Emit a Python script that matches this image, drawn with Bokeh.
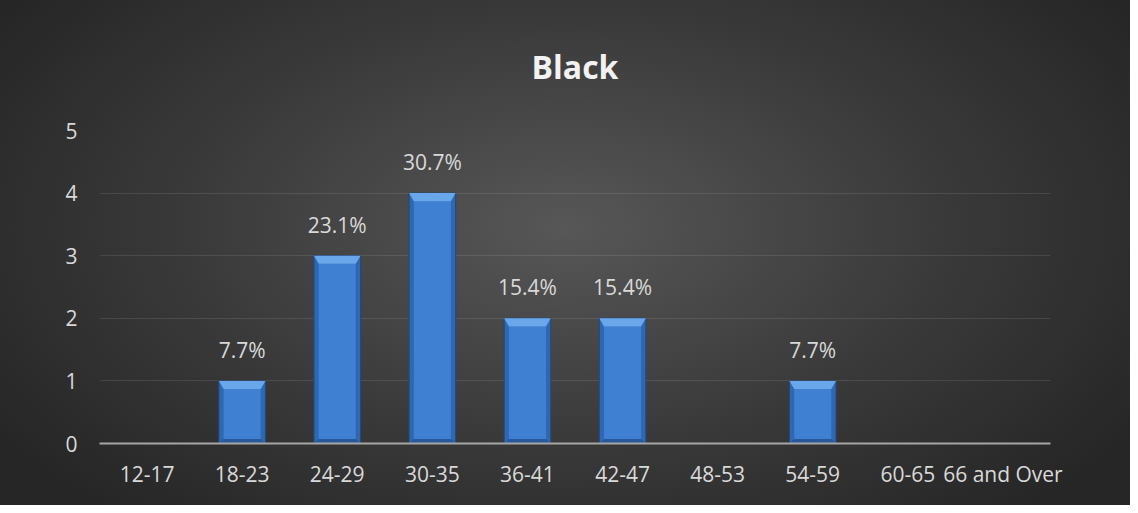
from bokeh.plotting import figure
from bokeh.models import Range1d, FixedTicker, ColumnDataSource
from bokeh.core.properties import value
from bokeh.embed import file_html
from bokeh.resources import INLINE

title = "Black"
categories = ["12-17", "18-23", "24-29", "30-35", "36-41", "42-47", "48-53", "54-59", "60-65", "66 and Over"]
counts = [0, 1, 3, 4, 2, 2, 0, 1, 0, 0]
percent_labels = ["", "7.7%", "23.1%", "30.7%", "15.4%", "15.4%", "", "7.7%", "", ""]
y_ticks = [0, 1, 2, 3, 4, 5]

FONT = "Open Sans"
xs = list(range(len(categories)))
bw = 0.49          # bar width (category units)
bx = 0.05          # side bevel size in x units
bt = 0.13          # top bevel size in y units
bb = 0.07          # bottom bevel size in y units

p = figure(width=1130, height=505, output_backend="svg", toolbar_location=None,
           x_range=Range1d(-0.5, len(categories) - 0.5), y_range=Range1d(0, 5),
           min_border_left=99, min_border_right=80, min_border_top=128, min_border_bottom=62)
p.styles = {"background": "radial-gradient(ellipse 60% 75% at 50% 45%, #575757 0%, #3a3a3a 55%, #262626 100%)"}
p.border_fill_color = None
p.background_fill_color = None
p.outline_line_color = None

p.title.text = title
p.title.align = "center"
p.title.text_font = FONT
p.title.text_font_style = "bold"
p.title.text_font_size = "32px"
p.title.text_color = "#f2f2f2"
p.title.standoff = 85

# bars
nz = [i for i, c in enumerate(counts) if c > 0]
src = ColumnDataSource(dict(x=[xs[i] for i in nz], top=[counts[i] for i in nz],
                            itop=[counts[i] - bt for i in nz],
                            lab=[percent_labels[i] for i in nz]))
p.vbar(x="x", top="top", width=bw, source=src, fill_color="#2f67b0", line_color="#22487c", line_width=1)
p.vbar(x="x", top="itop", bottom=bb, width=bw - 2 * bx, source=src,
       fill_color="#3f80d2", line_color=None)
# top bevel
tx, ty = [], []
for i in nz:
    x0, x1, t = xs[i] - bw / 2, xs[i] + bw / 2, counts[i]
    tx.append([x0, x1, x1 - bx, x0 + bx])
    ty.append([t, t, t - bt, t - bt])
p.patches(tx, ty, fill_color="#6aa6ea", line_color=None)
# bottom bevel
bxs, bys = [], []
for i in nz:
    x0, x1 = xs[i] - bw / 2, xs[i] + bw / 2
    bxs.append([x0, x1, x1 - bx, x0 + bx])
    bys.append([0, 0, bb, bb])
p.patches(bxs, bys, fill_color="#28589a", line_color=None)

p.text(x="x", y="top", text="lab", source=src, text_align="center", text_baseline="middle",
       y_offset=-31, text_font=value(FONT), text_font_size="21px", text_color="#d9d9d9")

# axes
p.xaxis.ticker = FixedTicker(ticks=xs)
p.xaxis.major_label_overrides = {i: c for i, c in enumerate(categories)}
p.yaxis.ticker = FixedTicker(ticks=y_ticks)
for ax in (p.xaxis[0], p.yaxis[0]):
    ax.major_tick_line_color = None
    ax.minor_tick_line_color = None
    ax.major_label_text_font = FONT
    ax.major_label_text_font_size = "21px"
    ax.major_label_text_color = "#d9d9d9"
p.yaxis.axis_line_color = None
p.yaxis.major_label_standoff = 16
p.xaxis.axis_line_color = "#a6a6a6"
p.xaxis.axis_line_width = 2
p.xaxis.major_label_standoff = 10
p.xgrid.grid_line_color = None
p.ygrid.grid_line_color = "#ffffff"
p.ygrid.grid_line_alpha = 0.1
p.ygrid.ticker = FixedTicker(ticks=y_ticks)

open("out.html", "w").write(file_html(p, INLINE))
